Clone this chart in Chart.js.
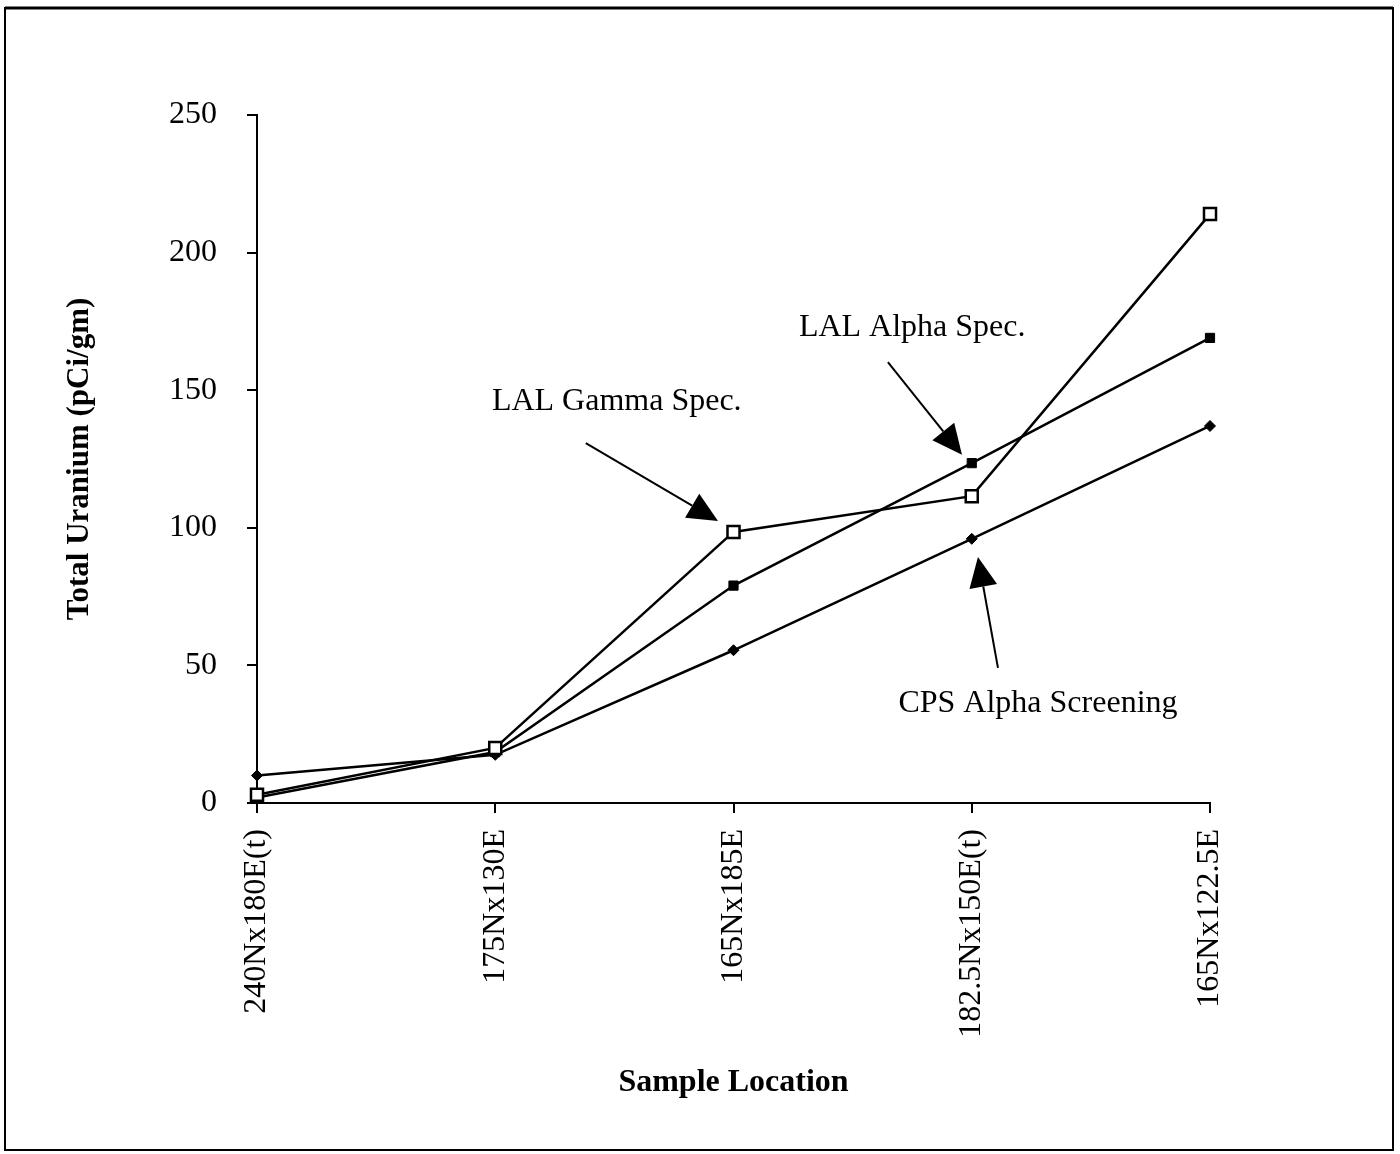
<!DOCTYPE html>
<html>
<head>
<meta charset="utf-8">
<script src="https://cdn.jsdelivr.net/npm/chart.js@4.4.1/dist/chart.umd.min.js"></script>
<style>
    body { margin: 0; background: #fff; }
    #chart { display: block; }
</style>
</head>
<body>
<canvas id="chart" width="1400" height="1154"></canvas>
<script>
// Data
const locations = ["240Nx180E(t)", "175Nx130E", "165Nx185E", "182.5Nx150E(t)", "165Nx122.5E"];
const lalGamma = [3, 20, 98.5, 111.5, 214];
const lalAlpha = [2, 18.5, 79, 123.5, 169];
const cpsAlpha = [10, 17.5, 55.5, 96, 137];
const yTicks = [0, 50, 100, 150, 200, 250];

// Callouts: text spot and arrow, in (category index, value) units
const callouts = [
    { text: "LAL Gamma Spec.", at: [1.51, 145.7], from: [1.38, 130.8], to: [1.935, 102.5] },
    { text: "LAL Alpha Spec.", at: [2.75, 172.6], from: [2.648, 160.2], to: [2.959, 126.5] },
    { text: "CPS Alpha Screening", at: [3.278, 36.3], from: [3.11, 49.1], to: [3.026, 89.4] }
];

const serif = "'Liberation Serif', 'Times New Roman', serif";

function arrow(ctx, x1, y1, x2, y2) {
    const ang = Math.atan2(y2 - y1, x2 - x1);
    const len = 30, half = 14;
    const bx = x2 - len * Math.cos(ang), by = y2 - len * Math.sin(ang);
    ctx.beginPath();
    ctx.moveTo(x1, y1);
    ctx.lineTo(bx, by);
    ctx.stroke();
    ctx.beginPath();
    ctx.moveTo(x2, y2);
    ctx.lineTo(bx + half * Math.sin(ang), by - half * Math.cos(ang));
    ctx.lineTo(bx - half * Math.sin(ang), by + half * Math.cos(ang));
    ctx.closePath();
    ctx.fill();
}

const extras = {
    id: "extras",
    afterDraw(chart) {
        const ctx = chart.ctx;
        const xs = chart.scales.x, ys = chart.scales.y;
        ctx.save();
        // frame
        ctx.strokeStyle = "#000";
        ctx.lineWidth = 2;
        ctx.strokeRect(5, 8, 1388, 1142);
        ctx.lineWidth = 3;
        ctx.beginPath();
        ctx.moveTo(5, 8);
        ctx.lineTo(1393, 8);
        ctx.stroke();

        // callouts
        ctx.fillStyle = "#000";
        ctx.lineWidth = 2;
        ctx.font = "32px " + serif;
        ctx.textAlign = "center";
        ctx.textBaseline = "middle";
        callouts.forEach(c => {
            ctx.fillText(c.text, xs.getPixelForValue(c.at[0]), ys.getPixelForValue(c.at[1]));
            arrow(ctx,
                xs.getPixelForValue(c.from[0]), ys.getPixelForValue(c.from[1]),
                xs.getPixelForValue(c.to[0]), ys.getPixelForValue(c.to[1]));
        });
        ctx.restore();
    }
};

new Chart(document.getElementById("chart"), {
    type: "line",
    data: {
        labels: locations,
        datasets: [
            {
                label: "LAL Gamma Spec.",
                data: lalGamma,
                borderColor: "#000",
                borderWidth: 2.5,
                pointStyle: "rect",
                pointRadius: 8.5,
                pointBackgroundColor: "#fff",
                pointBorderColor: "#000",
                pointBorderWidth: 2.5,
                tension: 0,
                order: 0
            },
            {
                label: "LAL Alpha Spec.",
                data: lalAlpha,
                borderColor: "#000",
                borderWidth: 2.5,
                pointStyle: "rect",
                pointRadius: 6.5,
                pointBackgroundColor: "#000",
                pointBorderColor: "#000",
                pointBorderWidth: 1,
                tension: 0,
                order: 1
            },
            {
                label: "CPS Alpha Screening",
                data: cpsAlpha,
                borderColor: "#000",
                borderWidth: 2.5,
                pointStyle: "rectRot",
                pointRadius: 5.5,
                pointBackgroundColor: "#000",
                pointBorderColor: "#000",
                pointBorderWidth: 1,
                tension: 0,
                order: 2
            }
        ]
    },
    options: {
        responsive: false,
        animation: false,
        layout: { padding: { left: 0, right: 190, top: 115, bottom: 0 } },
        plugins: {
            legend: { display: false },
            tooltip: { enabled: false }
        },
        scales: {
            x: {
                offset: false,
                grid: { drawOnChartArea: false, color: "#000", tickLength: 10, lineWidth: 2 },
                border: { color: "#000", width: 2 },
                ticks: {
                    color: "#000",
                    font: { family: serif, size: 32 },
                    maxRotation: 90,
                    minRotation: 90,
                    padding: 16,
                    autoSkip: false
                },
                title: {
                    display: true,
                    text: "Sample Location",
                    color: "#000",
                    font: { family: serif, size: 32, weight: "bold" },
                    padding: { top: 0, bottom: 52 }
                },
                afterFit(scale) { scale.height = 351; }
            },
            y: {
                min: 0,
                max: 250,
                afterBuildTicks(scale) { scale.ticks = yTicks.map(v => ({ value: v })); },
                grid: { drawOnChartArea: false, color: "#000", tickLength: 10, lineWidth: 2 },
                border: { color: "#000", width: 2 },
                ticks: {
                    color: "#000",
                    font: { family: serif, size: 32 },
                    padding: 30
                },
                title: {
                    display: true,
                    text: "Total Uranium (pCi/gm)",
                    color: "#000",
                    font: { family: serif, size: 31, weight: "bold" },
                    padding: { top: 61, bottom: 0 }
                },
                afterFit(scale) { scale.width = 257; }
            }
        }
    },
    plugins: [extras]
});
</script>
</body>
</html>
